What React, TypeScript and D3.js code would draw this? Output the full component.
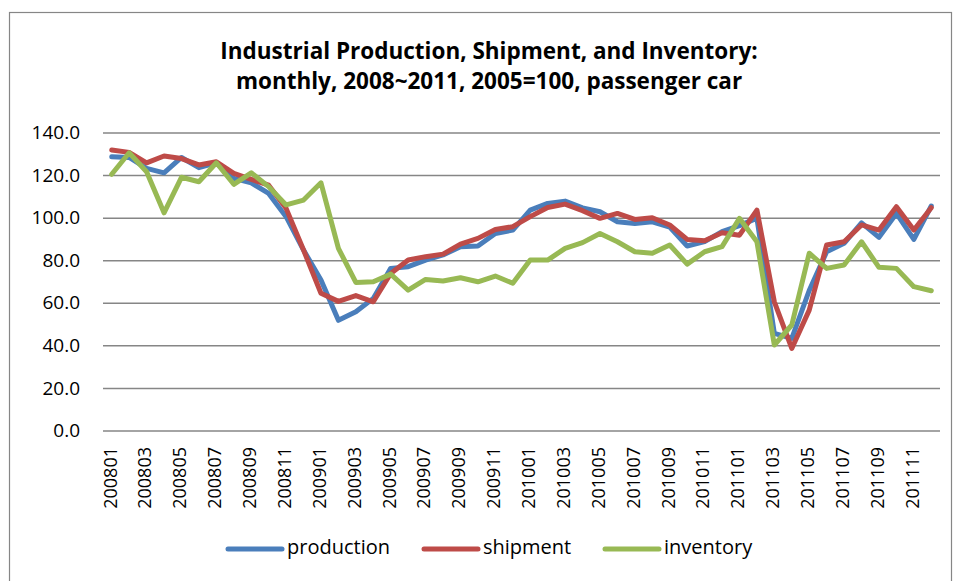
import { useRef, useEffect } from 'react'
import * as d3 from 'd3'

const categories = [
  '200801', '200802', '200803', '200804', '200805', '200806', '200807', '200808', '200809', '200810', '200811', '200812',
  '200901', '200902', '200903', '200904', '200905', '200906', '200907', '200908', '200909', '200910', '200911', '200912',
  '201001', '201002', '201003', '201004', '201005', '201006', '201007', '201008', '201009', '201010', '201011', '201012',
  '201101', '201102', '201103', '201104', '201105', '201106', '201107', '201108', '201109', '201110', '201111', '201112',
]

const production = [
  128.8, 128.5, 123.4, 121.3, 128.5, 123.7, 126.0, 118.7, 116.6, 111.6, 100.7, 85.0,
  70.9, 52.0, 56.0, 62.3, 76.4, 77.2, 80.3, 82.7, 86.6, 86.9, 92.8, 94.4,
  103.8, 106.9, 108.0, 104.8, 103.0, 98.3, 97.5, 98.3, 95.8, 86.9, 89.0, 93.7,
  96.5, 100.0, 45.9, 43.5, 66.0, 84.2, 88.2, 97.8, 91.0, 102.2, 90.0, 105.7,
]

const shipment = [
  132.0, 130.9, 126.0, 129.2, 128.0, 125.0, 126.5, 121.0, 118.2, 115.5, 104.6, 85.0,
  64.7, 60.9, 63.6, 60.7, 74.0, 80.3, 81.9, 83.1, 87.8, 90.5, 94.7, 96.0,
  100.7, 105.0, 106.6, 103.5, 99.9, 102.2, 99.4, 100.2, 96.8, 90.0, 89.4, 93.1,
  92.0, 103.8, 60.7, 38.8, 56.8, 87.4, 88.9, 96.8, 94.4, 105.4, 94.4, 104.9,
]

const inventory = [
  120.6, 130.7, 121.8, 102.5, 119.2, 117.1, 126.0, 115.9, 121.3, 114.8, 106.2, 108.5,
  116.6, 85.8, 69.8, 70.1, 73.7, 66.2, 71.2, 70.5, 72.0, 70.1, 72.8, 69.4,
  80.3, 80.3, 85.8, 88.5, 92.8, 88.9, 84.2, 83.5, 87.4, 78.4, 84.2, 86.6,
  99.9, 88.9, 40.4, 49.8, 83.5, 76.4, 78.0, 88.9, 76.9, 76.4, 67.8, 65.9,
]

const yTicks = [0, 20, 40, 60, 80, 100, 120, 140]

const seriesNames = ['production', 'shipment', 'inventory']
const seriesColors = ['#4A7EBB', '#BE4B48', '#98B954']

const titleLines = [
  'Industrial Production, Shipment, and Inventory:',
  'monthly, 2008~2011, 2005=100, passenger car',
]

const W = 955
const H = 581
const FONT = "'Open Sans', 'Liberation Sans', sans-serif"

const App = () => {
  const ref = useRef<SVGSVGElement>(null)

  useEffect(() => {
    if (!ref.current) return
    const svg = d3.select(ref.current)
    svg.selectAll('*').remove()

    const x = d3.scaleBand<string>().domain(categories).range([103, 940])
    const y = d3.scaleLinear().domain([0, 140]).range([431, 133])
    const cx = (c: string) => (x(c) ?? 0) + x.bandwidth() / 2

    // outer frame
    svg
      .append('rect')
      .attr('x', 9.5)
      .attr('y', 12.5)
      .attr('width', 942)
      .attr('height', 600)
      .attr('fill', '#fff')
      .attr('stroke', '#868686')
      .attr('stroke-width', 1.2)

    // title
    svg
      .append('g')
      .selectAll('text')
      .data(titleLines)
      .enter()
      .append('text')
      .attr('x', 489)
      .attr('y', (_, i) => 59 + i * 30)
      .attr('text-anchor', 'middle')
      .attr('font-family', FONT)
      .attr('font-weight', 'bold')
      .attr('font-size', 22.5)
      .attr('fill', '#000')
      .text((d) => d)

    // gridlines
    svg
      .append('g')
      .selectAll('line')
      .data(yTicks)
      .enter()
      .append('line')
      .attr('x1', 103)
      .attr('x2', 940)
      .attr('y1', (d) => y(d))
      .attr('y2', (d) => y(d))
      .attr('stroke', '#868686')
      .attr('stroke-width', 1.5)

    // y labels
    svg
      .append('g')
      .selectAll('text')
      .data(yTicks)
      .enter()
      .append('text')
      .attr('x', 80)
      .attr('y', (d) => y(d) + 1)
      .attr('text-anchor', 'end')
      .attr('dominant-baseline', 'middle')
      .attr('font-family', FONT)
      .attr('font-size', 19)
      .attr('fill', '#000')
      .text((d) => d.toFixed(1))

    // x labels
    svg
      .append('g')
      .selectAll('text')
      .data(categories.filter((_, i) => i % 2 === 0))
      .enter()
      .append('text')
      .attr('transform', (d) => `translate(${cx(d)},447) rotate(-90)`)
      .attr('text-anchor', 'end')
      .attr('dominant-baseline', 'middle')
      .attr('font-family', FONT)
      .attr('font-size', 18)
      .attr('fill', '#000')
      .text((d) => d)

    // series lines
    const line = d3
      .line<number>()
      .x((_, i) => cx(categories[i]))
      .y((d) => y(d))

    const allSeries = [production, shipment, inventory]
    svg
      .append('g')
      .selectAll('path')
      .data(allSeries)
      .enter()
      .append('path')
      .attr('d', (d) => line(d))
      .attr('fill', 'none')
      .attr('stroke', (_, i) => seriesColors[i])
      .attr('stroke-width', 5)
      .attr('stroke-linejoin', 'round')
      .attr('stroke-linecap', 'round')

    // legend
    const legendX = [228, 424, 605]
    const lg = svg
      .append('g')
      .selectAll('g')
      .data(seriesNames)
      .enter()
      .append('g')
      .attr('transform', (_, i) => `translate(${legendX[i]},549)`)
    lg.append('line')
      .attr('x1', 0)
      .attr('x2', 54)
      .attr('stroke', (_, i) => seriesColors[i])
      .attr('stroke-width', 5)
      .attr('stroke-linecap', 'round')
    lg.append('text')
      .attr('x', 59)
      .attr('dominant-baseline', 'middle')
      .attr('font-family', FONT)
      .attr('font-size', 20)
      .attr('fill', '#000')
      .text((d) => d)
  }, [])

  return (
    <svg
      ref={ref}
      width={W}
      height={H}
      style={{ position: 'absolute', left: 0, top: 0, background: '#fff' }}
    />
  )
}

export default App
